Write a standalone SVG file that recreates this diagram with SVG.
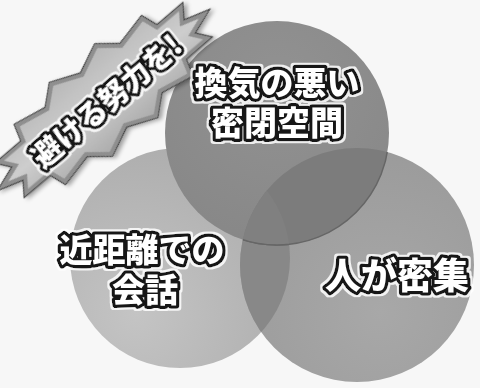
<svg xmlns="http://www.w3.org/2000/svg" width="480" height="388" viewBox="0 0 480 388">
  <defs>
    <style>
      .lbl { font-family: "Noto Sans CJK JP", "Noto Sans CJK SC", sans-serif; font-weight: 900; fill: #ffffff; stroke: #161616; stroke-width: 6.5; stroke-linejoin: round; paint-order: stroke; text-anchor: middle; }
    </style>
    <filter id="halo" x="-15%" y="-30%" width="130%" height="160%">
      <feMorphology in="SourceAlpha" operator="dilate" radius="1.6" result="d"/>
      <feFlood flood-color="#ffffff" flood-opacity="0.85"/>
      <feComposite in2="d" operator="in" result="w"/>
      <feMerge><feMergeNode in="w"/><feMergeNode in="SourceGraphic"/></feMerge>
    </filter>
    <filter id="shadow" x="-20%" y="-20%" width="140%" height="140%">
      <feDropShadow dx="2" dy="3" stdDeviation="2" flood-color="#000" flood-opacity="0.35"/>
    </filter>
    <radialGradient id="gLeft" cx="0.3" cy="0.75" r="0.8">
      <stop offset="0" stop-color="#c4c4c4"/>
      <stop offset="1" stop-color="#adadad"/>
    </radialGradient>
    <radialGradient id="gRight" cx="0.6" cy="0.7" r="0.8">
      <stop offset="0" stop-color="#a8a8a8"/>
      <stop offset="1" stop-color="#999999"/>
    </radialGradient>
    <radialGradient id="gTop" cx="0.5" cy="0.3" r="0.8">
      <stop offset="0" stop-color="#929292"/>
      <stop offset="1" stop-color="#868686"/>
    </radialGradient>
    <linearGradient id="gBurst" x1="0" y1="0" x2="0" y2="1">
      <stop offset="0" stop-color="#b8b8b8"/>
      <stop offset="0.5" stop-color="#cdcdcd"/>
      <stop offset="1" stop-color="#ababab"/>
    </linearGradient>
    <clipPath id="cRight"><circle cx="357" cy="265" r="117"/></clipPath>
    <clipPath id="cLeft"><circle cx="180" cy="258" r="110"/></clipPath>
    <polygon id="burstShape" points="132,0 109.2,7.4 118.9,20.4 87.6,20.6 82.2,36.8 48.6,29.7 29.4,45.8 0,33 -29.4,45.8 -48.6,29.7 -82.2,36.8 -87.6,20.6 -118.9,20.4 -109.2,7.4 -132,0 -109.2,-7.4 -118.9,-20.4 -87.6,-20.6 -82.2,-36.8 -48.6,-29.7 -29.4,-45.8 0,-33 29.4,-45.8 48.6,-29.7 82.2,-36.8 87.6,-20.6 118.9,-20.4 109.2,-7.4"/>
  </defs>

  <rect width="480" height="388" fill="#f7f7f7"/>

  <g id="circles">
    <g id="circle-left"><circle cx="180" cy="258" r="110" fill="url(#gLeft)"/></g>
    <g id="circle-right"><circle cx="357" cy="265" r="117" fill="url(#gRight)"/></g>
    <g id="overlap-left-right" clip-path="url(#cRight)"><circle cx="180" cy="258" r="110" fill="#888888"/></g>
    <g id="circle-top"><circle cx="277" cy="133" r="112" fill="url(#gTop)"/></g>
    <g id="overlap-top-right" clip-path="url(#cRight)"><circle cx="277" cy="133" r="112" fill="#7c7c7c" stroke="#666" stroke-width="1.5"/></g>
    <g id="overlap-center" clip-path="url(#cRight)"><g clip-path="url(#cLeft)"><circle cx="277" cy="133" r="112" fill="#808080" stroke="#666" stroke-width="1.5"/></g></g>
  </g>

  <g id="badge" transform="translate(107,101) rotate(-40.5)">
    <g filter="url(#shadow)" transform="translate(-2,-3)">
      <use href="#burstShape" fill="none" stroke="#3a3a3a" stroke-width="6" stroke-linejoin="miter"/>
      <use href="#burstShape" fill="url(#gBurst)" stroke="#8f8f8f" stroke-width="4" stroke-linejoin="miter"/>
    </g>
    <text class="lbl" x="0" y="11" font-size="29" stroke-width="5.5" filter="url(#halo)">避ける努力を!</text>
  </g>

  <g id="node-top" filter="url(#halo)">
    <text class="lbl" font-size="33"><tspan x="277" y="95">換気の悪い</tspan><tspan x="277" y="135">密閉空間</tspan></text>
  </g>

  <g id="node-left" filter="url(#halo)">
    <text class="lbl" font-size="33"><tspan x="142" y="262">近距離での</tspan><tspan x="145" y="302">会話</tspan></text>
  </g>

  <g id="node-right" filter="url(#halo)">
    <text class="lbl" x="397" y="289" font-size="36">人が密集</text>
  </g>

  <g id="connectors"/>
</svg>
